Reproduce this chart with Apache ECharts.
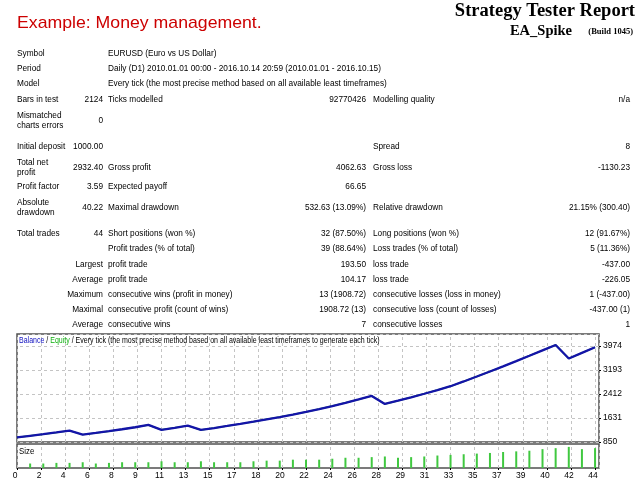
<!DOCTYPE html>
<html>
<head>
<meta charset="utf-8">
<script src="https://cdn.jsdelivr.net/npm/echarts@6/dist/echarts.min.js"></script>
<style>
  html, body { margin: 0; padding: 0; background: #fff; }
  #main { width: 640px; height: 480px; }
</style>
</head>
<body>
<div id="main"></div>
<script>
// report texts
var pageTitle = 'Example: Money management.';
var reportTitle = 'Strategy Tester Report';
var expertName = 'EA_Spike';
var buildText = '(Build 1045)';

var headerRows = [
  ['Symbol', 'EURUSD (Euro vs US Dollar)'],
  ['Period', 'Daily (D1) 2010.01.01 00:00 - 2016.10.14 20:59 (2010.01.01 - 2016.10.15)'],
  ['Model', 'Every tick (the most precise method based on all available least timeframes)']
];

// columns: label, value, label, value, label, value
var statRows = [
  ['Bars in test', '2124', 'Ticks modelled', '92770426', 'Modelling quality', 'n/a'],
  ['Mismatched\ncharts errors', '0', '', '', '', ''],
  ['Initial deposit', '1000.00', '', '', 'Spread', '8'],
  ['Total net\nprofit', '2932.40', 'Gross profit', '4062.63', 'Gross loss', '-1130.23'],
  ['Profit factor', '3.59', 'Expected payoff', '66.65', '', ''],
  ['Absolute\ndrawdown', '40.22', 'Maximal drawdown', '532.63 (13.09%)', 'Relative drawdown', '21.15% (300.40)'],
  ['Total trades', '44', 'Short positions (won %)', '32 (87.50%)', 'Long positions (won %)', '12 (91.67%)'],
  ['', '', 'Profit trades (% of total)', '39 (88.64%)', 'Loss trades (% of total)', '5 (11.36%)'],
  ['', 'Largest', 'profit trade', '193.50', 'loss trade', '-437.00'],
  ['', 'Average', 'profit trade', '104.17', 'loss trade', '-226.05'],
  ['', 'Maximum', 'consecutive wins (profit in money)', '13 (1908.72)', 'consecutive losses (loss in money)', '1 (-437.00)'],
  ['', 'Maximal', 'consecutive profit (count of wins)', '1908.72 (13)', 'consecutive loss (count of losses)', '-437.00 (1)'],
  ['', 'Average', 'consecutive wins', '7', 'consecutive losses', '1']
];

var legendText = '{b|Balance} / {g|Equity} / Every tick (the most precise method based on all available least timeframes to generate each tick)';

// balance after each trade (0..44)
var balance = [1000, 1052, 1105, 1161, 1220, 1090, 1145, 1203, 1265, 1330,
  1405, 1245, 1312, 1383, 1243, 1305, 1372, 1440, 1512, 1587,
  1663, 1742, 1828, 1921, 2020, 2125, 2235, 2350, 2087, 2195,
  2305, 2420, 2540, 2665, 2820, 2980, 3145, 3312, 3482, 3655,
  3830, 4005, 3568, 3750, 3932.4];
var equity = balance.slice();

// lot size of trades 1..44
var sizes = [0.14, 0.14, 0.16, 0.16, 0.18, 0.14, 0.16, 0.18, 0.18, 0.18,
  0.21, 0.18, 0.18, 0.21, 0.18, 0.18, 0.18, 0.21, 0.23, 0.23,
  0.26, 0.26, 0.26, 0.29, 0.32, 0.32, 0.34, 0.36, 0.32, 0.34,
  0.36, 0.39, 0.41, 0.43, 0.45, 0.47, 0.50, 0.52, 0.54, 0.59,
  0.62, 0.66, 0.59, 0.62];

// tick labels of the trade axis, one per grid column
var xLabels = ['0', '2', '4', '6', '8', '9', '11', '13', '15', '17', '18', '20', '22',
  '24', '26', '28', '29', '31', '33', '35', '37', '39', '40', '42', '44'];

var balanceMin = 850;
var balanceStep = 781;

// layout
var FONT = 'Liberation Sans, Arial, sans-serif';
var colX = [17, 103, 108, 366, 373, 630];
var colAlign = ['left', 'right', 'left', 'right', 'left', 'right'];
var headerY = [53, 68, 83];
var statY = [99, 120, 146, 167, 186, 207, 233, 248, 264, 279, 294, 309, 324];
var SX = 0.87;

function txt(x, y, s, align, extra) {
  var st = {
    text: s, x: 0, y: 0, fill: '#000',
    fontSize: 9.5, fontFamily: FONT, lineHeight: 10,
    align: align, textAlign: align,
    verticalAlign: 'middle', textVerticalAlign: 'middle'
  };
  if (extra) for (var k in extra) st[k] = extra[k];
  return { type: 'text', x: x, y: y, scaleX: SX, silent: true, style: st };
}

var graphics = [];
graphics.push({
  type: 'text', x: 17, y: 23, scaleX: 1.04, silent: true,
  style: { text: pageTitle, x: 0, y: 0, fill: '#cc0000', fontSize: 17, fontFamily: FONT,
    verticalAlign: 'middle', textVerticalAlign: 'middle' }
});
graphics.push({
  type: 'text', x: 635, y: 11, silent: true,
  style: { text: reportTitle, x: 0, y: 0, fill: '#000', fontSize: 18.5, fontWeight: 'bold',
    fontFamily: 'Liberation Serif, Times New Roman, serif',
    align: 'right', textAlign: 'right', verticalAlign: 'middle', textVerticalAlign: 'middle' }
});
graphics.push({
  type: 'text', x: 572, y: 31, silent: true,
  style: { text: expertName, x: 0, y: 0, fill: '#000', fontSize: 14.5, fontWeight: 'bold',
    fontFamily: 'Liberation Serif, Times New Roman, serif',
    align: 'right', textAlign: 'right', verticalAlign: 'middle', textVerticalAlign: 'middle' }
});
graphics.push({
  type: 'text', x: 633, y: 32, silent: true,
  style: { text: buildText, x: 0, y: 0, fill: '#000', fontSize: 8.5, fontWeight: 'bold',
    fontFamily: 'Liberation Serif, Times New Roman, serif',
    align: 'right', textAlign: 'right', verticalAlign: 'middle', textVerticalAlign: 'middle' }
});

headerRows.forEach(function (r, i) {
  graphics.push(txt(colX[0], headerY[i], r[0], 'left'));
  graphics.push(txt(colX[2], headerY[i], r[1], 'left'));
});
statRows.forEach(function (r, i) {
  r.forEach(function (cell, c) {
    if (cell) graphics.push(txt(colX[c], statY[i], cell, colAlign[c]));
  });
});

// chart captions
graphics.push({
  type: 'text', x: 19, y: 341, scaleX: 0.78, silent: true, z: 10,
  style: {
    text: legendText, x: 0, y: 0, fill: '#000', fontSize: 9, fontFamily: FONT,
    verticalAlign: 'middle', textVerticalAlign: 'middle',
    rich: {
      b: { fill: '#1010c0', color: '#1010c0', fontSize: 9, fontFamily: FONT },
      g: { fill: '#10b010', color: '#10b010', fontSize: 9, fontFamily: FONT }
    }
  }
});
graphics.push(txt(19, 452, 'Size', 'left', { fontSize: 9 }));

var balanceData = balance.map(function (v, i) { return [i, v]; });
var equityData = equity.map(function (v, i) { return [i, v]; });
var sizeData = sizes.map(function (v, i) { return [i + 1, v]; });

var xStep = 44 / 24;
var xMax = 44.3;
var dashed = { show: true, lineStyle: { color: '#c4c4c4', type: [3, 3], dashOffset: 3, width: 1 } };
var noLine = { show: false, onZero: false };

var chart = echarts.init(document.getElementById('main'), null, { renderer: 'canvas' });
chart.setOption({
  animation: false,
  backgroundColor: '#fff',
  textStyle: { fontFamily: FONT },
  grid: [
    { left: 17, top: 334, width: 582, height: 108, show: true, borderColor: '#505050', borderWidth: 1.5, backgroundColor: '#fff' },
    { left: 17, top: 444, width: 582, height: 25, show: true, borderColor: '#505050', borderWidth: 1.5, backgroundColor: '#fff' }
  ],
  xAxis: [
    {
      type: 'value', gridIndex: 0, min: 0, max: xMax, interval: xStep,
      axisLine: noLine, axisTick: { show: false }, axisLabel: { show: false },
      splitLine: dashed
    },
    {
      type: 'value', gridIndex: 1, min: 0, max: xMax, interval: xStep, position: 'bottom',
      axisLine: noLine,
      axisTick: { show: true, length: 2, lineStyle: { color: '#000' } },
      axisLabel: {
        show: true, fontSize: 8.5, color: '#000', margin: 3, showMaxLabel: false,
        padding: [0, 4, 0, 0],
        formatter: function (v) {
          var k = Math.round(v / xStep);
          return xLabels[k] !== undefined ? xLabels[k] : '';
        }
      },
      splitLine: dashed
    }
  ],
  yAxis: [
    {
      type: 'value', gridIndex: 0, position: 'right',
      min: balanceMin, max: 4364, interval: balanceStep,
      axisLine: noLine,
      axisTick: { show: true, length: 2, lineStyle: { color: '#000' } },
      axisLabel: {
        fontSize: 8.5, color: '#000', margin: 4, showMaxLabel: false,
        formatter: function (v) { return String(Math.round(v)); }
      },
      splitLine: dashed
    },
    {
      type: 'value', gridIndex: 1, min: 0, max: 0.75,
      axisLine: noLine, axisTick: { show: false }, axisLabel: { show: false },
      splitLine: { show: false }
    }
  ],
  series: [
    {
      name: 'Equity', type: 'line', xAxisIndex: 0, yAxisIndex: 0,
      data: equityData, symbol: 'none',
      lineStyle: { color: '#20c020', width: 1.5 }
    },
    {
      name: 'Balance', type: 'line', xAxisIndex: 0, yAxisIndex: 0,
      data: balanceData, symbol: 'none',
      lineStyle: { color: '#1414a8', width: 2.3 }
    },
    {
      name: 'Size', type: 'bar', xAxisIndex: 1, yAxisIndex: 1,
      data: sizeData, barWidth: 2,
      itemStyle: { color: '#40c840' }
    }
  ],
  graphic: graphics
});
</script>
</body>
</html>
